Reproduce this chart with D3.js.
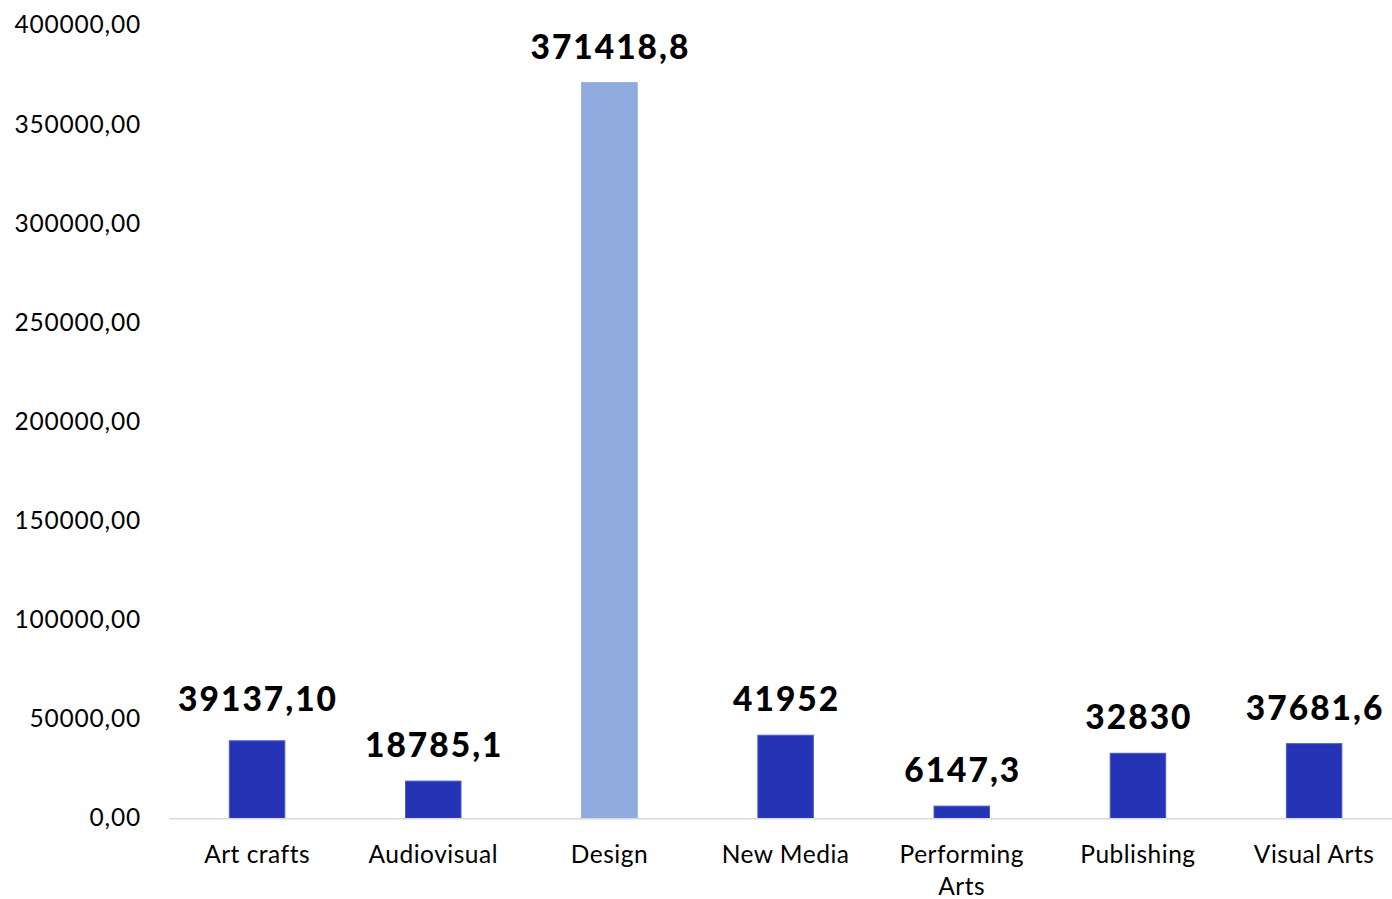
<!DOCTYPE html>
<html>
<head>
<meta charset="utf-8">
<script src="https://cdn.jsdelivr.net/npm/d3@7"></script>
<style>
  html, body { margin: 0; padding: 0; background: #ffffff; }
  svg { display: block; }
</style>
</head>
<body>
<svg id="chart" width="1392" height="899"></svg>
<script>
// Sector values
const categories = ["Art crafts", "Audiovisual", "Design", "New Media", "Performing Arts", "Publishing", "Visual Arts"];
const values = [39137.10, 18785.1, 371418.8, 41952, 6147.3, 32830, 37681.6];
const valueLabels = ["39137,10", "18785,1", "371418,8", "41952", "6147,3", "32830", "37681,6"];
const yTicks = [0, 50000, 100000, 150000, 200000, 250000, 300000, 350000, 400000];
const highlighted = "Design";

const svg = d3.select("#chart");
const font = "Lato, 'Open Sans', sans-serif";

const x = d3.scaleBand()
  .domain(categories)
  .range([169, 1402.2])
  .paddingInner(0.685)
  .paddingOuter(0.3425);

const y = d3.scaleLinear()
  .domain([0, 400000])
  .range([818.3, 26.1]);

// Value axis labels (no line, no ticks)
const yAxis = d3.axisLeft(y)
  .tickValues(yTicks)
  .tickSize(0)
  .tickPadding(0)
  .tickFormat(d => d3.format(".2f")(d).replace(".", ","));

const gy = svg.append("g")
  .attr("transform", "translate(141,0)")
  .call(yAxis);
gy.select(".domain").remove();
gy.selectAll("text")
  .attr("font-family", font)
  .attr("font-size", 24.5)
  .attr("letter-spacing", "0.8px")
  .attr("fill", "#000")
  .attr("dy", "0.28em");

// Bars
svg.append("g")
  .selectAll("rect")
  .data(categories)
  .join("rect")
  .attr("x", d => x(d))
  .attr("width", x.bandwidth())
  .attr("y", (d, i) => y(values[i]))
  .attr("height", (d, i) => y(0) - y(values[i]))
  .attr("fill", d => d === highlighted ? "#8FAADC" : "#2533B5")
  .attr("stroke", d => d === highlighted ? "#8FAADC" : "#4A5BCF")
  .attr("stroke-width", 1);

// Category axis line
svg.append("line")
  .attr("x1", 169).attr("x2", 1392)
  .attr("y1", y(0) + 0.5).attr("y2", y(0) + 0.5)
  .attr("stroke", "#D9D9D9")
  .attr("stroke-width", 1.5);

// Category labels (wrapped into lines)
const catWrap = { "Performing Arts": ["Performing", "Arts"] };
const gx = svg.append("g");
categories.forEach(c => {
  const lines = catWrap[c] || [c];
  const t = gx.append("text")
    .attr("x", x(c) + x.bandwidth() / 2)
    .attr("y", 863)
    .attr("text-anchor", "middle")
    .attr("font-family", font)
    .attr("font-size", 24.5)
    .attr("letter-spacing", "0.5px")
    .attr("fill", "#000");
  lines.forEach((ln, k) => {
    t.append("tspan")
      .attr("x", x(c) + x.bandwidth() / 2)
      .attr("dy", k === 0 ? 0 : 32)
      .text(ln);
  });
});

// Data labels above bars
const labelLift = { "Art crafts": 6 };
svg.append("g")
  .selectAll("text")
  .data(categories)
  .join("text")
  .attr("x", d => x(d) + x.bandwidth() / 2 + 1)
  .attr("y", (d, i) => y(values[i]) - 24 - (labelLift[d] || 0))
  .attr("text-anchor", "middle")
  .attr("font-family", font)
  .attr("font-weight", 900)
  .attr("font-size", 33.5)
  .attr("letter-spacing", "2px")
  .attr("fill", "#000")
  .text((d, i) => valueLabels[i]);
</script>
</body>
</html>
